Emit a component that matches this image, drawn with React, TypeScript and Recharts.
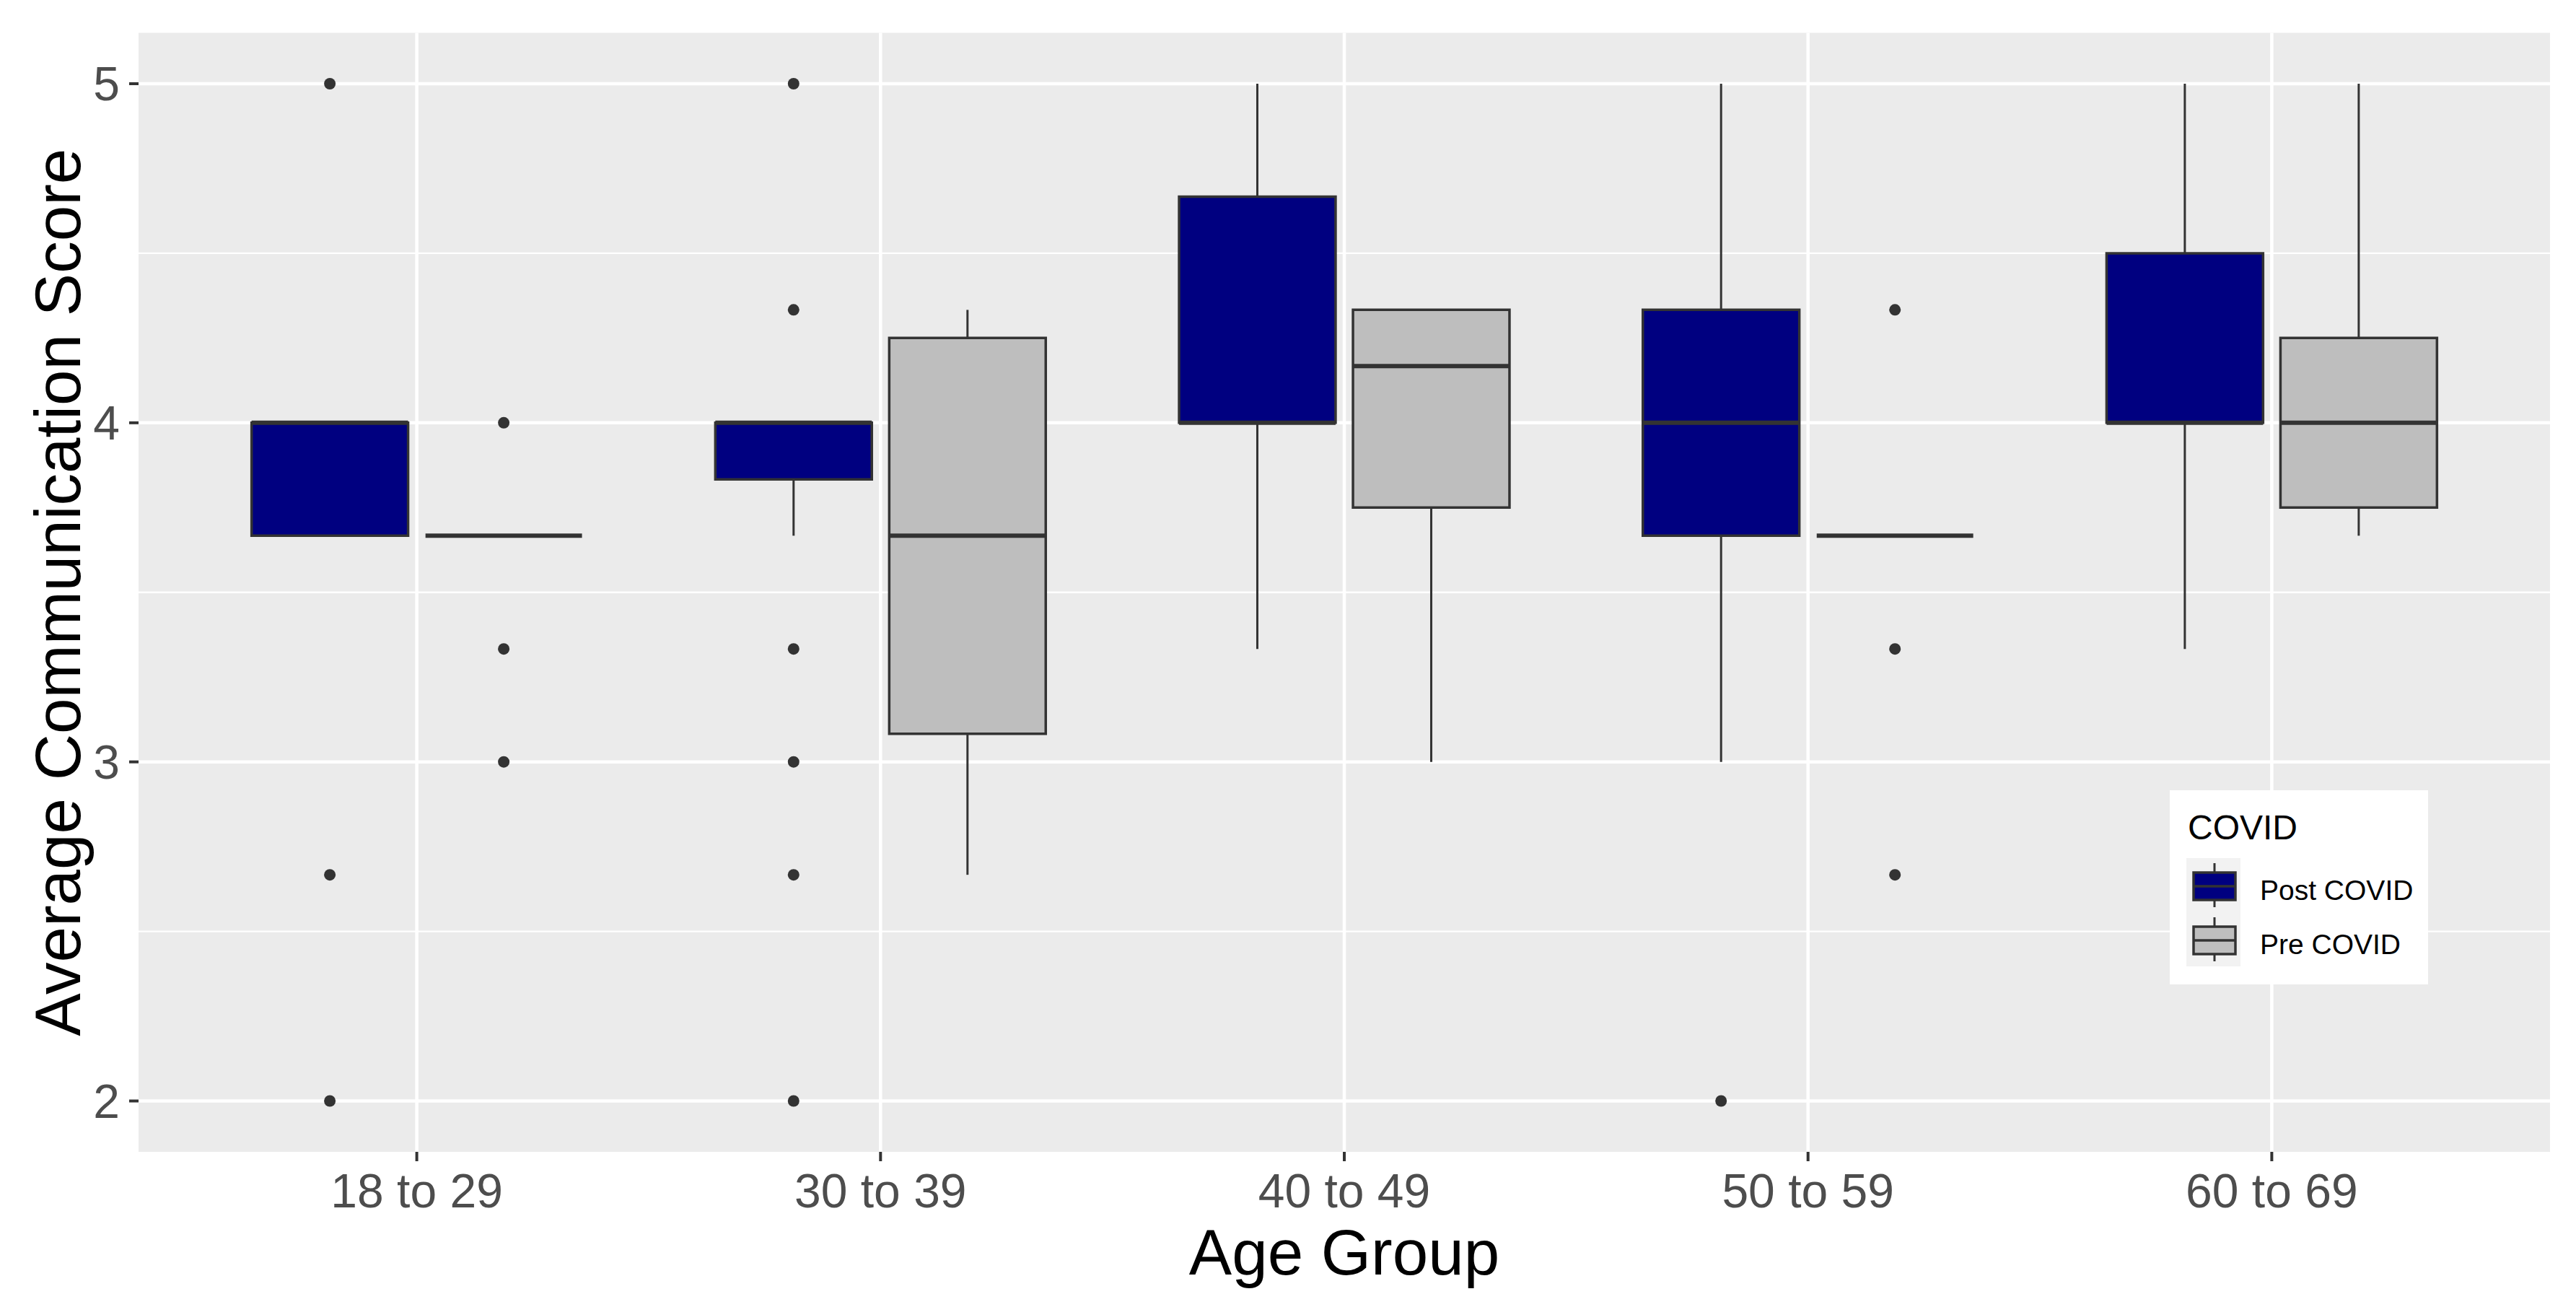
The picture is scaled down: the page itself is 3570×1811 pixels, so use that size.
import {
  CartesianGrid,
  ComposedChart,
  Label,
  ReferenceArea,
  ReferenceLine,
  Scatter,
  XAxis,
  YAxis,
} from 'recharts';

const categories = ['18 to 29', '30 to 39', '40 to 49', '50 to 59', '60 to 69'];

// Post COVID five-number summaries (whisker low, Q1, median, Q3, whisker high)
const postLow = [3.667, 3.667, 3.333, 3, 3.333];
const postQ1 = [3.667, 3.833, 4, 3.667, 4];
const postMedian = [4, 4, 4, 4, 4];
const postQ3 = [4, 4, 4.667, 4.333, 4.5];
const postHigh = [4, 4, 5, 5, 5];
const postOutliers = [[5, 2.667, 2], [5, 4.333, 3.333, 3, 2.667, 2], [], [2], []];

// Pre COVID
const preLow = [3.667, 2.667, 3, 3.667, 3.667];
const preQ1 = [3.667, 3.083, 3.75, 3.667, 3.75];
const preMedian = [3.667, 3.667, 4.167, 3.667, 4];
const preQ3 = [3.667, 4.25, 4.333, 3.667, 4.25];
const preHigh = [3.667, 4.333, 4.333, 3.667, 5];
const preOutliers = [[4, 3.333, 3], [], [], [4.333, 3.333, 2.667], []];

const yTicks = [2, 3, 4, 5];
const yMinor = [2.5, 3.5, 4.5];

const groups = [
  { name: 'Post COVID', fill: '#000080', offset: -0.1875, low: postLow, q1: postQ1, med: postMedian, q3: postQ3, high: postHigh, out: postOutliers },
  { name: 'Pre COVID', fill: '#BEBEBE', offset: 0.1875, low: preLow, q1: preQ1, med: preMedian, q3: preQ3, high: preHigh, out: preOutliers },
];

const HALF = 0.16875;
const EDGE = '#333333';
const FONT = '"Liberation Sans", Arial, sans-serif';

export default function App() {
  const boxes = [];
  const whiskers = [];
  const medians = [];
  groups.forEach((g, gi) => {
    categories.forEach((_, i) => {
      const c = i + 1 + g.offset;
      if (g.high[i] > g.q3[i]) {
        whiskers.push(
          <ReferenceLine key={`wh-${gi}-${i}`} segment={[{ x: c, y: g.q3[i] }, { x: c, y: g.high[i] }]} stroke={EDGE} strokeWidth={3} />
        );
      }
      if (g.low[i] < g.q1[i]) {
        whiskers.push(
          <ReferenceLine key={`wl-${gi}-${i}`} segment={[{ x: c, y: g.low[i] }, { x: c, y: g.q1[i] }]} stroke={EDGE} strokeWidth={3} />
        );
      }
      if (g.q3[i] > g.q1[i]) {
        boxes.push(
          <ReferenceArea
            key={`b-${gi}-${i}`}
            x1={c - HALF}
            x2={c + HALF}
            y1={g.q1[i]}
            y2={g.q3[i]}
            fill={g.fill}
            fillOpacity={1}
            stroke={EDGE}
            strokeWidth={3.5}
          />
        );
      }
      medians.push(
        <ReferenceLine key={`m-${gi}-${i}`} segment={[{ x: c - HALF, y: g.med[i] }, { x: c + HALF, y: g.med[i] }]} stroke={EDGE} strokeWidth={6} />
      );
    });
  });

  const outlierData = groups.flatMap((g) =>
    g.out.flatMap((vals, i) => vals.map((v) => ({ x: i + 1 + g.offset, y: v })))
  );

  return (
    <div style={{ position: 'relative', width: 3554, height: 1795, fontFamily: FONT }}>
      <ComposedChart width={3554} height={1795} margin={{ top: 37.5, right: 28, left: 64, bottom: 87 }}>
        <CartesianGrid
          horizontalValues={yTicks}
          verticalValues={[1, 2, 3, 4, 5]}
          stroke="#FFFFFF"
          strokeWidth={4.5}
          fill="#EBEBEB"
          fillOpacity={1}
        />
        <CartesianGrid horizontalValues={yMinor} vertical={false} stroke="#FFFFFF" strokeWidth={2.3} />
        <XAxis
          type="number"
          dataKey="x"
          domain={[0.4, 5.6]}
          allowDataOverflow
          ticks={[1, 2, 3, 4, 5]}
          interval={0}
          tickFormatter={(v) => categories[v - 1]}
          height={120}
          axisLine={false}
          tickLine={{ stroke: EDGE, strokeWidth: 4 }}
          tickSize={13}
          tickMargin={17}
          tick={{ fontSize: 66, fill: '#4D4D4D', fontFamily: FONT }}
        >
          <Label
            content={({ viewBox }) => (
              <text
                x={viewBox.x + viewBox.width / 2}
                y={viewBox.y + 170}
                textAnchor="middle"
                fontSize={89}
                fill="#000"
                fontFamily={FONT}
              >
                Age Group
              </text>
            )}
          />
        </XAxis>
        <YAxis
          type="number"
          dataKey="y"
          domain={[1.85, 5.15]}
          allowDataOverflow
          ticks={yTicks}
          interval={0}
          width={120}
          axisLine={false}
          tickLine={{ stroke: EDGE, strokeWidth: 4 }}
          tickSize={13}
          tickMargin={13}
          tick={{ fontSize: 66, fill: '#4D4D4D', fontFamily: FONT }}
        >
          <Label
            content={({ viewBox }) => {
              const x = viewBox.x + 39;
              const y = viewBox.y + viewBox.height / 2;
              return (
                <text
                  x={x}
                  y={y}
                  transform={`rotate(-90, ${x}, ${y})`}
                  textAnchor="middle"
                  fontSize={89}
                  fill="#000"
                  fontFamily={FONT}
                >
                  Average Communication Score
                </text>
              );
            }}
          />
        </YAxis>
        {whiskers}
        {boxes}
        {medians}
        <Scatter
          data={outlierData}
          dataKey="y"
          isAnimationActive={false}
          shape={(p) => <circle cx={p.cx} cy={p.cy} r={8} fill={EDGE} />}
        />
      </ComposedChart>
      <svg
        style={{ position: 'absolute', left: 2999, top: 1087 }}
        width={358}
        height={269}
        fontFamily={FONT}
      >
        <rect x={0} y={0} width={358} height={269} fill="#FFFFFF" />
        <text x={25} y={68} fontSize={48} fill="#000">COVID</text>
        <rect x={23} y={94} width={75} height={150} fill="#F2F2F2" />
        {groups.map((g, k) => {
          const top = 114 + k * 75;
          return (
            <g key={g.name}>
              <line x1={62} x2={62} y1={top - 13} y2={top + 48} stroke={EDGE} strokeWidth={3} />
              <rect x={33} y={top} width={58} height={38} fill={g.fill} stroke={EDGE} strokeWidth={3.5} />
              <line x1={33} x2={91} y1={top + 19} y2={top + 19} stroke={EDGE} strokeWidth={3.5} />
              <text x={125} y={top + 38} fontSize={39} fill="#000">{g.name}</text>
            </g>
          );
        })}
      </svg>
    </div>
  );
}
